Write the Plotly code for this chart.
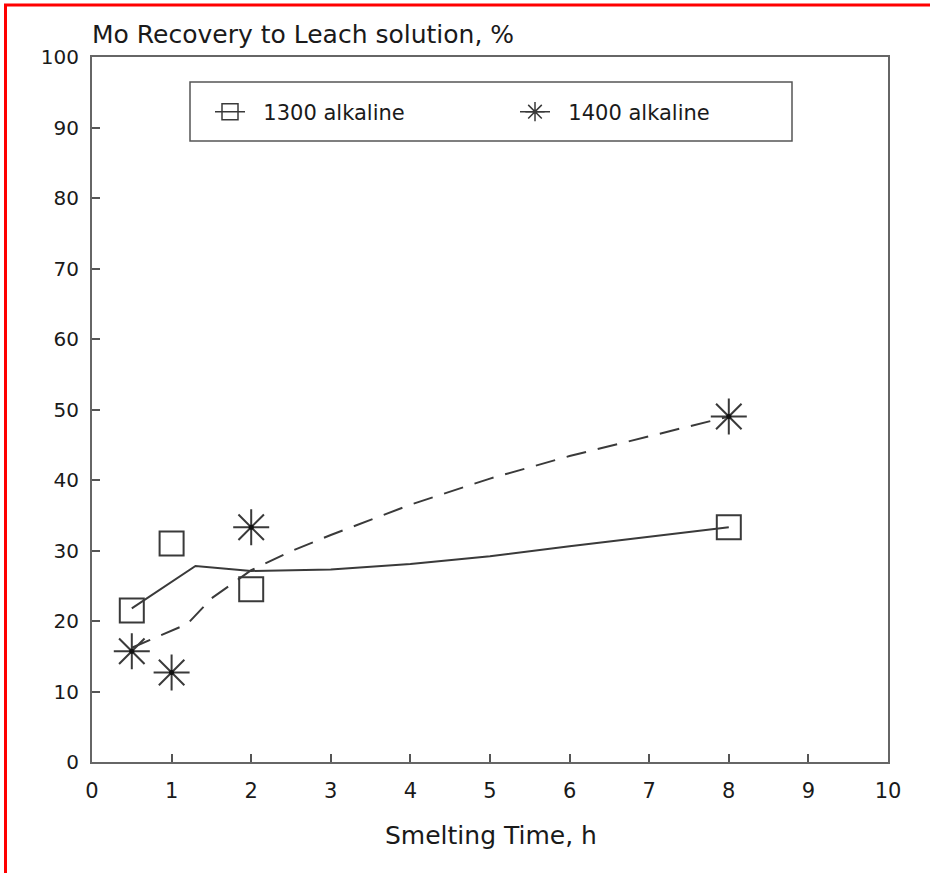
import plotly.graph_objects as go

# ---- data ----
t_1300 = [0.5, 1, 2, 8]
r_1300 = [21.5, 31.0, 24.5, 33.3]
t_1400 = [0.5, 1, 2, 8]
r_1400 = [15.7, 12.7, 33.3, 49.0]

fit_t_1300 = [0.5, 1.3, 2, 3, 4, 5, 6, 7, 8]
fit_r_1300 = [21.8, 27.8, 27.1, 27.3, 28.1, 29.2, 30.6, 31.9, 33.3]
fit_t_1400 = [0.5, 1.0, 1.2, 1.5, 2, 2.5, 3, 4, 5, 6, 7, 8]
fit_r_1400 = [16.2, 18.6, 19.6, 23.2, 27.2, 29.9, 32.2, 36.5, 40.2, 43.4, 46.2, 49.0]

x_ticks = list(range(0, 11))
y_ticks = list(range(0, 101, 10))
series_names = ["1300 alkaline", "1400 alkaline"]

INK = "#3a3a3a"
TXT = "#1a1a1a"
FONT = "DejaVu Sans"

fig = go.Figure()
# fitted curves
fig.add_trace(go.Scatter(x=fit_t_1300, y=fit_r_1300, mode="lines",
                         line=dict(color=INK, width=2), showlegend=False, hoverinfo="skip"))
fig.add_trace(go.Scatter(x=fit_t_1400, y=fit_r_1400, mode="lines",
                         line=dict(color=INK, width=2, dash="20px,12px"), showlegend=False, hoverinfo="skip"))
# data markers
fig.add_trace(go.Scatter(x=t_1300, y=r_1300, mode="markers", showlegend=False,
                         marker=dict(symbol="square-open", size=24, color=INK, line=dict(width=2, color=INK))))
fig.add_trace(go.Scatter(x=t_1400, y=r_1400, mode="markers", showlegend=False,
                         marker=dict(symbol="asterisk-open", size=30, color=INK, line=dict(width=2, color=INK))))
fig.add_trace(go.Scatter(x=t_1400, y=r_1400, mode="markers", showlegend=False,
                         marker=dict(symbol="circle", size=5, color="#111")))
# legend entries
fig.add_trace(go.Scatter(x=[None], y=[None], mode="lines+markers", name="\u00a0\u00a0" + series_names[0],
                         line=dict(color=INK, width=1.5),
                         marker=dict(symbol="square-open", size=16, color=INK, line=dict(width=1.5, color=INK))))
fig.add_trace(go.Scatter(x=[None], y=[None], mode="lines+markers", name="\u00a0\u00a0" + series_names[1],
                         line=dict(color=INK, width=1.5),
                         marker=dict(symbol="asterisk-open", size=16, color=INK, line=dict(width=1.5, color=INK))))

# plot area: x 92..888, y 57..762
L, R, T, B = 92, 888, 57, 762
W, H = R - L, B - T
px = lambda x: (x - L) / W
py = lambda y: (B - y) / H

shapes = [
    # legend box
    dict(type="rect", xref="paper", yref="paper", x0=px(190), x1=px(792), y0=py(141), y1=py(82),
         line=dict(color="#555", width=1.5), fillcolor="rgba(0,0,0,0)"),
    # red frame (left and top)
    dict(type="line", xref="paper", yref="paper", x0=px(5.5), x1=px(5.5), y0=py(873), y1=py(5),
         line=dict(color="#ff0000", width=3)),
    dict(type="line", xref="paper", yref="paper", x0=px(4), x1=px(930), y0=py(5), y1=py(5),
         line=dict(color="#ff0000", width=3)),
]

annotations = [
    dict(text="Mo Recovery to Leach solution, %", xref="paper", yref="paper",
         x=px(90), y=py(35), xanchor="left", yanchor="middle", showarrow=False,
         font=dict(family=FONT, size=25, color=TXT)),
    dict(text="Smelting Time, h", xref="paper", yref="paper",
         x=px(491), y=py(835), xanchor="center", yanchor="middle", showarrow=False,
         font=dict(family=FONT, size=25, color=TXT)),
]

axis_common = dict(showline=True, linecolor="#666", linewidth=2, mirror=True,
                   ticks="inside", ticklen=8, tickwidth=1.5, tickcolor="#555",
                   showgrid=False, zeroline=False)

fig.update_layout(
    width=930, height=873,
    margin=dict(l=L, r=930 - R, t=T, b=873 - B),
    paper_bgcolor="white", plot_bgcolor="white",
    xaxis=dict(range=[0, 10], tickvals=x_ticks, ticklabelstandoff=9,
               tickfont=dict(family=FONT, size=21, color=TXT), **axis_common),
    yaxis=dict(range=[0, 100], tickvals=y_ticks, ticklabelstandoff=7,
               tickfont=dict(family=FONT, size=20, color=TXT), **axis_common),
    legend=dict(orientation="h", x=px(210), y=py(112), xanchor="left", yanchor="middle",
                bgcolor="rgba(0,0,0,0)", borderwidth=0,
                entrywidth=260, entrywidthmode="pixels",
                font=dict(family=FONT, size=21, color=TXT)),
    shapes=shapes, annotations=annotations,
    showlegend=True,
)

fig.write_html("out.html")
